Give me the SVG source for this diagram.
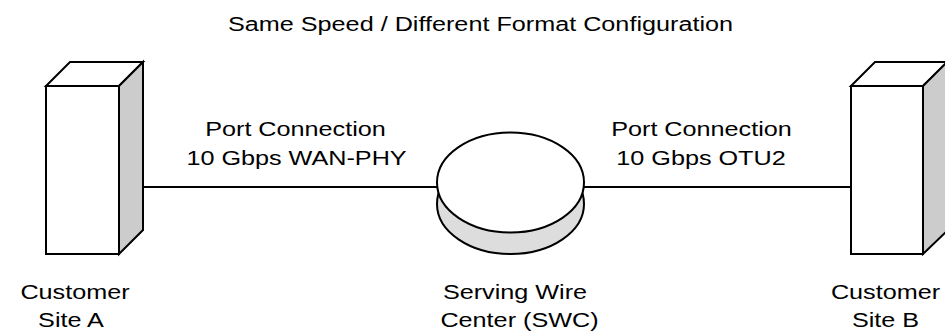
<svg xmlns="http://www.w3.org/2000/svg" width="945" height="333" viewBox="0 0 945 333">
<style>
.s{stroke:#000;stroke-width:2;stroke-linejoin:miter}
.w{fill:#fff}
.g{fill:#cccccc}
.d{fill:#dddddd}
text{font-family:"Liberation Sans",Arial,sans-serif;font-size:21px;fill:#000;text-anchor:middle}
</style>
<rect width="945" height="333" fill="#fff"/>
<g id="title"><text transform="translate(480.5,31) scale(1.2,1)">Same Speed / Different Format Configuration</text></g>
<g id="connectors">
<line class="s" x1="143" y1="187" x2="438" y2="187"/>
<line class="s" x1="583" y1="187" x2="851" y2="187"/>
<text transform="translate(295.5,136) scale(1.2,1)">Port Connection</text>
<text transform="translate(296.5,165) scale(1.2,1)">10 Gbps WAN-PHY</text>
<text transform="translate(701.5,136) scale(1.2,1)">Port Connection</text>
<text transform="translate(701,165) scale(1.2,1)">10 Gbps OTU2</text>
</g>
<g id="siteA">
<polygon class="s w" points="46,86 70,62 143,62 119,86"/>
<polygon class="s g" points="119,86 143,62 143,230 119,254"/>
<rect class="s w" x="46" y="86" width="73" height="168"/>
<text transform="translate(75,299) scale(1.2,1)">Customer</text>
<text transform="translate(71,327) scale(1.2,1)">Site A</text>
</g>
<g id="swc">
<ellipse class="s d" cx="510.5" cy="204" rx="73.5" ry="50"/>
<ellipse class="s w" cx="510.5" cy="182.5" rx="73.5" ry="50"/>
<text transform="translate(515,299) scale(1.2,1)">Serving Wire</text>
<text transform="translate(519.5,327) scale(1.2,1)">Center (SWC)</text>
</g>
<g id="siteB">
<polygon class="s w" points="851,86 875,62 948,62 923,86"/>
<polygon class="s g" points="923,86 948,61 948,230 923,254"/>
<rect class="s w" x="851" y="86" width="72" height="168"/>
<text transform="translate(885.5,299) scale(1.2,1)">Customer</text>
<text transform="translate(885.5,327) scale(1.2,1)">Site B</text>
</g>
</svg>
